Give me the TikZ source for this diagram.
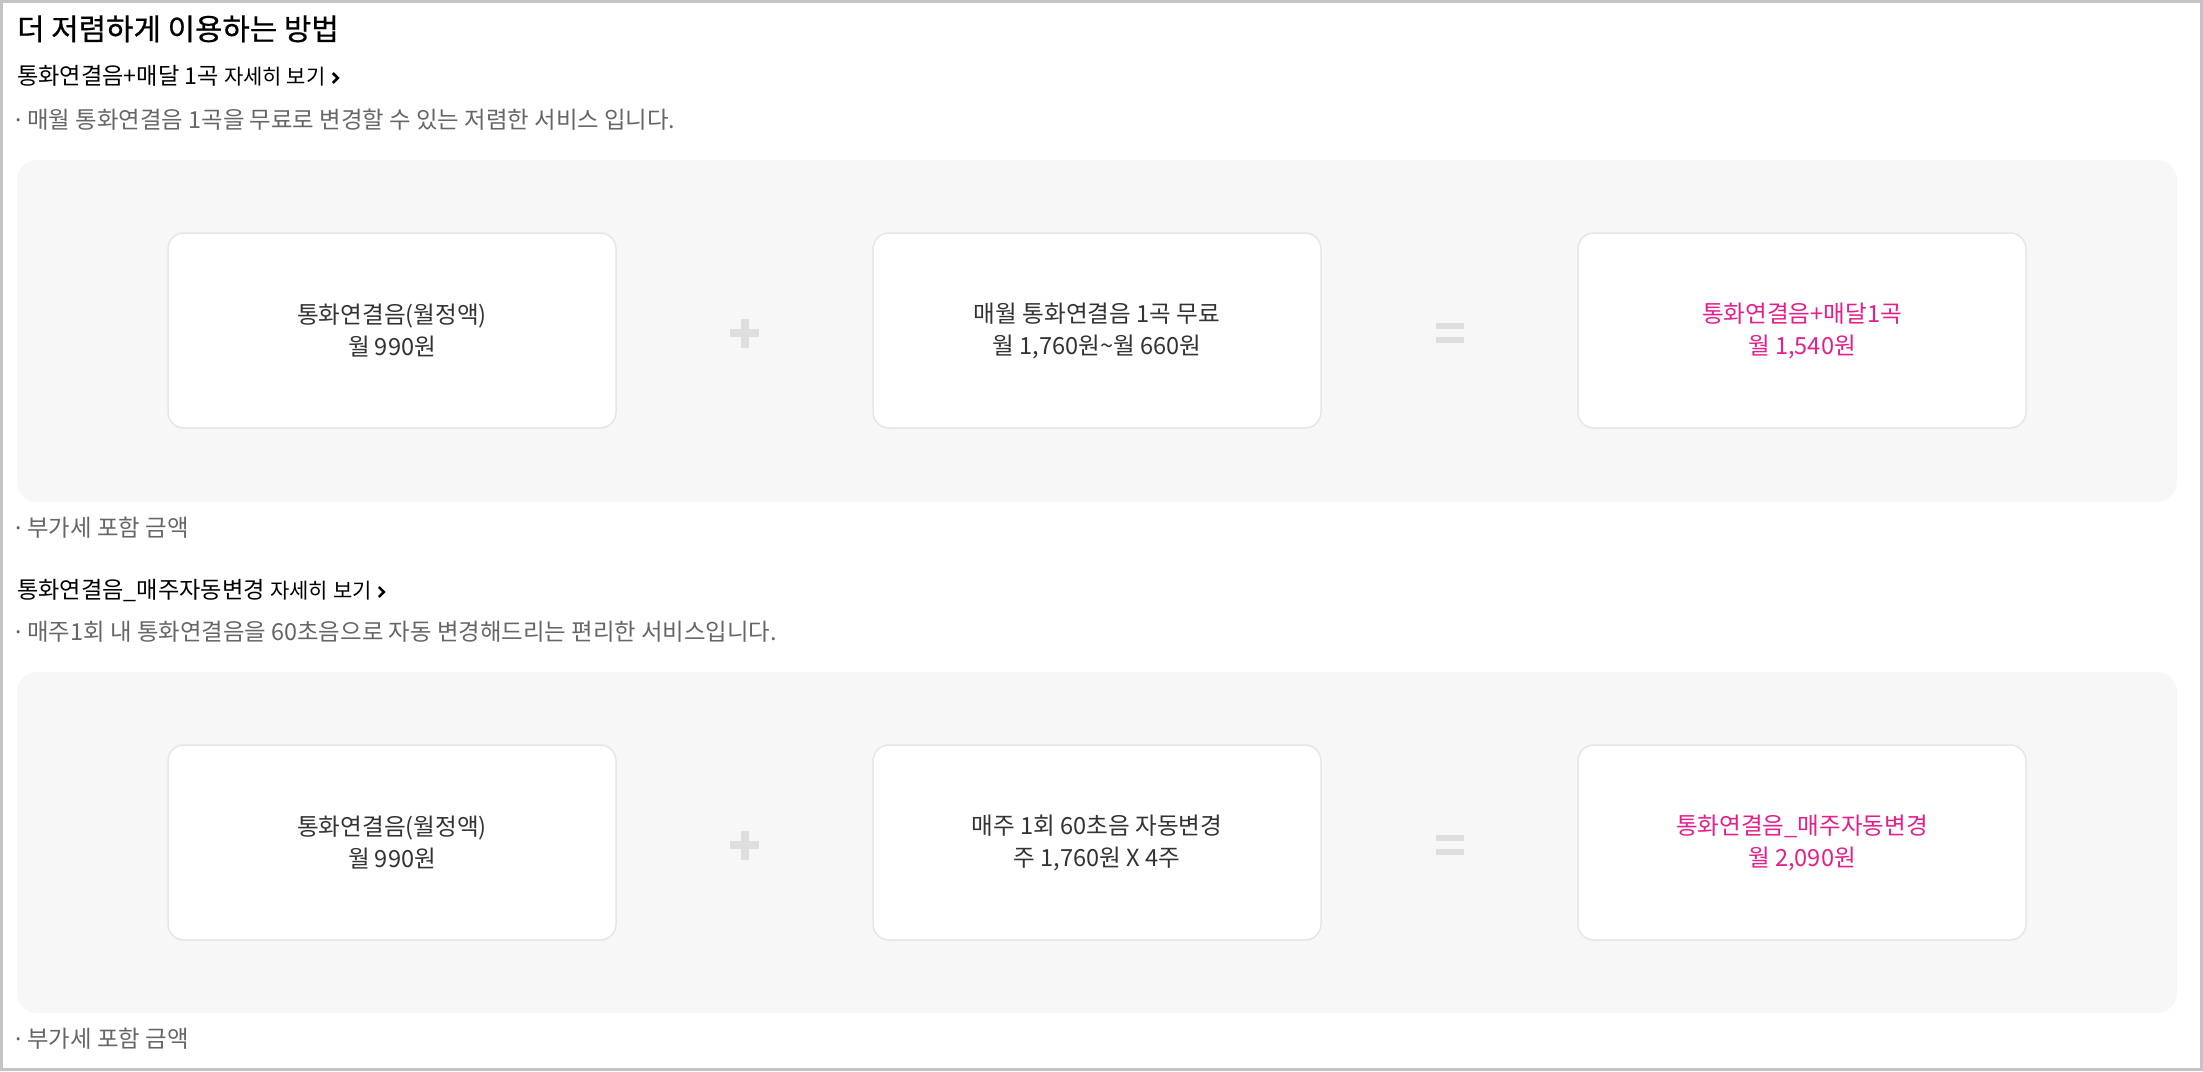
\documentclass[tikz,border=0pt]{standalone}
\usepackage{fontspec}
\setmainfont{Noto Sans CJK KR}
\newfontfamily\titlefont{Noto Sans CJK KR}[FakeBold=0.6]
\newfontfamily\dotfont{Noto Sans}
\usetikzlibrary{positioning}
\definecolor{framegray}{HTML}{C4C4C4}
\definecolor{panelgray}{HTML}{F7F7F7}
\definecolor{boxline}{HTML}{E6E6E6}
\definecolor{signgray}{HTML}{DEDEDE}
\definecolor{notegray}{HTML}{666666}
\definecolor{boxtext}{HTML}{333333}
\definecolor{pricepink}{RGB}{230,30,140}
\newcommand{\notedot}{{\dotfont ·}\hspace{6pt}}
\begin{document}
\begin{tikzpicture}
[x=1pt,y=-1pt,
  paneldecorate/.style={shape=rectangle,rounded corners=20pt,fill=panelgray,
    minimum width=2160pt,minimum height=342pt,inner sep=0pt},%
  boxdecorate/.style={shape=rectangle,rounded corners=16pt,draw=boxline,
    line width=1.5pt,fill=white,minimum width=448pt,minimum height=195pt,
    align=center,font=\fontsize{23.6}{32}\selectfont},%
  titledecorate/.style={anchor=base west,inner sep=0pt,text=black,
    font=\titlefont\fontsize{29.8}{34}\selectfont},%
  headdecorate/.style={anchor=base west,inner sep=0pt,text=black,
    font=\fontsize{23.2}{27}\selectfont},%
  linkdecorate/.style={inner sep=0pt,text=black,font=\fontsize{21}{25}\selectfont},%
  notedecorate/.style={anchor=base west,inner sep=0pt,text=notegray,
    font=\fontsize{23.4}{27}\selectfont},%
  chevrondecorate/.style={-,line width=2.6pt,black},%
  signdecorate/.style={fill=signgray}]
\useasboundingbox (0,0) rectangle (2203,1071);
%% frame and grey panels
\draw[framegray,line width=3pt] (1.5,1.5) rectangle (2201.5,1069.5);
\node (panela) at (1097,331) [paneldecorate] {};
\node (panelb) at (1097,842.5) [paneldecorate,minimum height=341pt] {};
%% headings and notes
\node (title) at (17,40) [titledecorate] {더 저렴하게 이용하는 방법};
\node (heada) at (17,84) [headdecorate] {통화연결음+매달 1곡};
\node (linka) [linkdecorate,base right=5pt of heada] {자세히 보기};
\node (notea) at (15,128) [notedecorate] {\notedot 매월 통화연결음 1곡을 무료로 변경할 수 있는 저렴한 서비스 입니다.};
\node (vata) at (15,536) [notedecorate] {\notedot 부가세 포함 금액};
\node (headb) at (17,598) [headdecorate] {통화연결음\_매주자동변경};
\node (linkb) [linkdecorate,base right=5pt of headb] {자세히 보기};
\node (noteb) at (15,640) [notedecorate] {\notedot 매주1회 내 통화연결음을 60초음으로 자동 변경해드리는 편리한 서비스입니다.};
\node (vatb) at (15,1047) [notedecorate] {\notedot 부가세 포함 금액};
\foreach \linkname in {linka,linkb} {
  \draw[chevrondecorate] ([shift={(7,-11)}]\linkname.base east) -- ++(5,5) -- ++(-5,5);
}
%% price boxes
\foreach \boxname/\x/\y/\colour/\boxtext in {
  a1/392/330.5/boxtext/{통화연결음(월정액)\\월 990원},
  a2/1097/330.5/boxtext/{매월 통화연결음 1곡 무료\\월 1,760원\textasciitilde 월 660원},
  a3/1802/330.5/pricepink/{통화연결음+매달1곡\\월 1,540원},
  b1/392/842.5/boxtext/{통화연결음(월정액)\\월 990원},
  b2/1097/842.5/boxtext/{매주 1회 60초음 자동변경\\주 1,760원 X 4주},
  b3/1802/842.5/pricepink/{통화연결음\_매주자동변경\\월 2,090원}} {
  \node (\boxname) at (\x,\y) [boxdecorate,text=\colour] {\boxtext};
}
%% plus and equal signs
\foreach \row in {a,b} {
  \path (\row1.east) -- (\row2.west) coordinate[pos=0.5] (plus\row);
  \path (\row2.east) -- (\row3.west) coordinate[pos=0.5] (equal\row);
  \fill[signdecorate] ([shift={(-14.5,-1.5)}]plus\row) rectangle ([shift={(14.5,6.5)}]plus\row);
  \fill[signdecorate] ([shift={(-4,-12)}]plus\row) rectangle ([shift={(4,17)}]plus\row);
  \fill[signdecorate] ([shift={(-14,-7.5)}]equal\row) rectangle ([shift={(14,-1.5)}]equal\row);
  \fill[signdecorate] ([shift={(-14,6.5)}]equal\row) rectangle ([shift={(14,12.5)}]equal\row);
}
\end{tikzpicture}
\end{document}
